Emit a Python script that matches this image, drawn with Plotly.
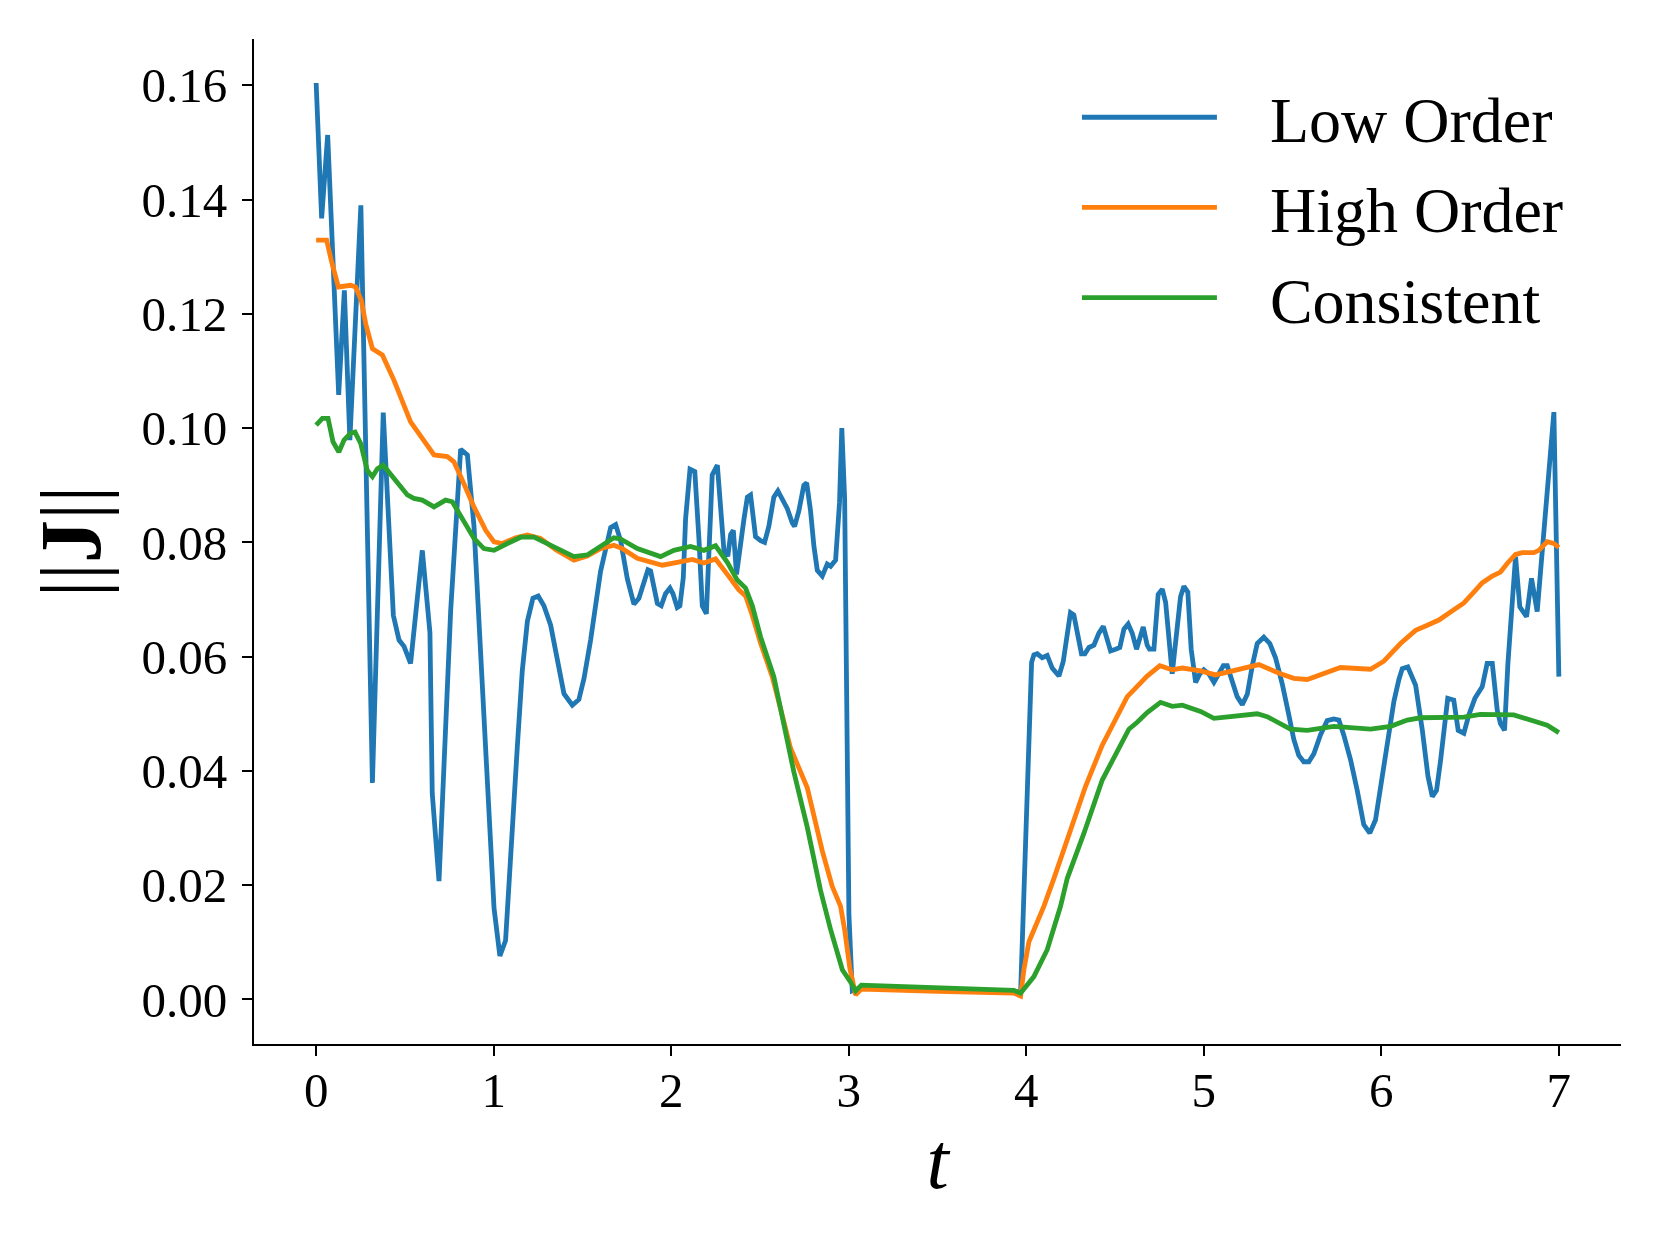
import plotly.graph_objects as go

# ---------------- data ----------------
t_low = [0.000, 0.031, 0.065, 0.127, 0.159, 0.190, 0.252, 0.317, 0.378, 0.435,
         0.467, 0.495, 0.532, 0.598, 0.641, 0.654, 0.692, 0.711, 0.758, 0.814,
         0.852, 0.889, 0.955, 1.002, 1.035, 1.067, 1.133, 1.161, 1.190, 1.221,
         1.251, 1.283, 1.321, 1.396, 1.443, 1.480, 1.509, 1.546, 1.602, 1.659,
         1.687, 1.715, 1.753, 1.790, 1.818, 1.869, 1.884, 1.922, 1.944, 1.968,
         1.993, 2.010, 2.034, 2.049, 2.068, 2.081, 2.106, 2.133, 2.156, 2.175,
         2.198, 2.212, 2.231, 2.260, 2.278, 2.297, 2.319, 2.335, 2.350, 2.368,
         2.410, 2.429, 2.447, 2.475, 2.504, 2.526, 2.550, 2.578, 2.601, 2.626,
         2.654, 2.682, 2.695, 2.719, 2.747, 2.763, 2.785, 2.804, 2.823, 2.851,
         2.879, 2.898, 2.926, 2.948, 2.961, 2.977, 2.988, 3.001, 3.020, 3.067,
         3.500, 3.930, 3.968, 4.030, 4.043, 4.062, 4.090, 4.118, 4.146, 4.184,
         4.208, 4.231, 4.249, 4.268, 4.291, 4.311, 4.330, 4.353, 4.381, 4.409,
         4.434, 4.456, 4.475, 4.503, 4.527, 4.550, 4.574, 4.597, 4.621, 4.659,
         4.681, 4.694, 4.719, 4.743, 4.766, 4.785, 4.822, 4.869, 4.888, 4.910,
         4.929, 4.954, 4.978, 5.000, 5.028, 5.057, 5.085, 5.110, 5.132, 5.160,
         5.188, 5.217, 5.245, 5.273, 5.301, 5.338, 5.372, 5.404, 5.442, 5.479,
         5.507, 5.535, 5.563, 5.592, 5.620, 5.657, 5.695, 5.732, 5.761, 5.789,
         5.827, 5.864, 5.901, 5.935, 5.967, 6.005, 6.043, 6.071, 6.099, 6.118,
         6.149, 6.193, 6.231, 6.263, 6.287, 6.311, 6.334, 6.362, 6.374, 6.408,
         6.433, 6.465, 6.493, 6.527, 6.568, 6.596, 6.625, 6.653, 6.671, 6.694,
         6.713, 6.756, 6.780, 6.818, 6.846, 6.878, 6.934, 6.972, 7.000]
low_order = [0.1604, 0.1367, 0.1513, 0.1058, 0.1241, 0.0979, 0.1390, 0.0379, 0.1027, 0.0672,
             0.0629, 0.0618, 0.0588, 0.0786, 0.0642, 0.0361, 0.0207, 0.0347, 0.0682, 0.0963,
             0.0953, 0.0829, 0.0414, 0.0160, 0.0076, 0.0103, 0.0441, 0.0575, 0.0662, 0.0702,
             0.0706, 0.0689, 0.0655, 0.0535, 0.0515, 0.0525, 0.0562, 0.0629, 0.0749, 0.0826,
             0.0831, 0.0803, 0.0736, 0.0692, 0.0702, 0.0752, 0.0750, 0.0693, 0.0689, 0.0710,
             0.0720, 0.0710, 0.0686, 0.0689, 0.0738, 0.0841, 0.0928, 0.0924, 0.0807, 0.0689,
             0.0675, 0.0786, 0.0918, 0.0935, 0.0862, 0.0786, 0.0776, 0.0814, 0.0821, 0.0744,
             0.0841, 0.0879, 0.0883, 0.0810, 0.0803, 0.0800, 0.0828, 0.0879, 0.0890, 0.0873,
             0.0859, 0.0834, 0.0828, 0.0855, 0.0900, 0.0904, 0.0855, 0.0793, 0.0751, 0.0741,
             0.0762, 0.0758, 0.0769, 0.0869, 0.1000, 0.0876, 0.0495, 0.0149, 0.0015, 0.0021,
             0.0017, 0.0015, 0.0011, 0.0590, 0.0603, 0.0605, 0.0598, 0.0602, 0.0580, 0.0566,
             0.0591, 0.0645, 0.0677, 0.0673, 0.0641, 0.0605, 0.0605, 0.0616, 0.0620, 0.0641,
             0.0653, 0.0627, 0.0610, 0.0613, 0.0616, 0.0648, 0.0657, 0.0641, 0.0613, 0.0652,
             0.0620, 0.0613, 0.0613, 0.0709, 0.0718, 0.0695, 0.0570, 0.0705, 0.0723, 0.0713,
             0.0613, 0.0555, 0.0570, 0.0577, 0.0570, 0.0555, 0.0570, 0.0584, 0.0584, 0.0555,
             0.0530, 0.0516, 0.0534, 0.0584, 0.0623, 0.0634, 0.0623, 0.0598, 0.0552, 0.0498,
             0.0455, 0.0427, 0.0416, 0.0416, 0.0430, 0.0463, 0.0488, 0.0491, 0.0489, 0.0462,
             0.0419, 0.0366, 0.0306, 0.0291, 0.0314, 0.0390, 0.0470, 0.0522, 0.0560, 0.0579,
             0.0582, 0.0550, 0.0471, 0.0390, 0.0355, 0.0366, 0.0419, 0.0506, 0.0527, 0.0524,
             0.0471, 0.0466, 0.0498, 0.0527, 0.0547, 0.0588, 0.0588, 0.0506, 0.0483, 0.0471,
             0.0588, 0.0775, 0.0687, 0.0670, 0.0737, 0.0679, 0.0886, 0.1028, 0.0565]

t_high = [0.000, 0.059, 0.085, 0.125, 0.194, 0.222, 0.254, 0.279, 0.317, 0.373,
          0.438, 0.532, 0.598, 0.664, 0.739, 0.776, 0.823, 0.889, 0.955, 1.002,
          1.049, 1.124, 1.190, 1.264, 1.350, 1.452, 1.527, 1.602, 1.677, 1.725,
          1.809, 1.950, 2.034, 2.119, 2.184, 2.250, 2.316, 2.381, 2.419, 2.457,
          2.504, 2.569, 2.616, 2.672, 2.766, 2.851, 2.907, 2.954, 2.977, 3.007,
          3.039, 3.071, 3.500, 3.930, 3.968, 3.987, 4.015, 4.052, 4.099, 4.156,
          4.240, 4.334, 4.428, 4.512, 4.569, 4.625, 4.681, 4.752, 4.822, 4.879,
          4.982, 5.066, 5.151, 5.245, 5.310, 5.432, 5.507, 5.583, 5.676, 5.770,
          5.939, 6.014, 6.108, 6.193, 6.259, 6.324, 6.390, 6.465, 6.521, 6.568,
          6.625, 6.671, 6.709, 6.756, 6.794, 6.859, 6.887, 6.934, 6.972, 7.000]
high_order = [0.1329, 0.1329, 0.1294, 0.1247, 0.1250, 0.1247, 0.1224, 0.1183, 0.1139, 0.1128,
              0.1084, 0.1011, 0.0982, 0.0953, 0.0950, 0.0941, 0.0909, 0.0862, 0.0821, 0.0801,
              0.0798, 0.0808, 0.0813, 0.0807, 0.0787, 0.0769, 0.0776, 0.0789, 0.0795, 0.0789,
              0.0772, 0.0760, 0.0765, 0.0770, 0.0764, 0.0771, 0.0744, 0.0717, 0.0706, 0.0672,
              0.0623, 0.0565, 0.0509, 0.0440, 0.0371, 0.0260, 0.0198, 0.0163, 0.0122, 0.0053,
              0.0008, 0.0018, 0.0014, 0.0011, 0.0006, 0.0053, 0.0101, 0.0129, 0.0163, 0.0212,
              0.0291, 0.0373, 0.0445, 0.0495, 0.0530, 0.0548, 0.0566, 0.0584, 0.0577, 0.0580,
              0.0575, 0.0568, 0.0575, 0.0582, 0.0586, 0.0570, 0.0562, 0.0560, 0.0570, 0.0581,
              0.0578, 0.0592, 0.0623, 0.0646, 0.0655, 0.0664, 0.0678, 0.0694, 0.0713, 0.0729,
              0.0741, 0.0748, 0.0763, 0.0779, 0.0782, 0.0782, 0.0786, 0.0801, 0.0798, 0.0791]

t_cons = [0.000, 0.035, 0.067, 0.095, 0.128, 0.157, 0.194, 0.219, 0.251, 0.288,
          0.317, 0.345, 0.378, 0.438, 0.514, 0.551, 0.598, 0.664, 0.729, 0.767,
          0.823, 0.889, 0.945, 1.002, 1.077, 1.152, 1.227, 1.302, 1.396, 1.452,
          1.527, 1.602, 1.677, 1.715, 1.809, 1.940, 2.015, 2.109, 2.184, 2.250,
          2.316, 2.372, 2.419, 2.457, 2.504, 2.578, 2.635, 2.691, 2.766, 2.841,
          2.898, 2.964, 3.007, 3.039, 3.071, 3.500, 3.930, 3.968, 4.043, 4.118,
          4.137, 4.193, 4.231, 4.325, 4.428, 4.503, 4.578, 4.625, 4.681, 4.756,
          4.822, 4.879, 4.982, 5.057, 5.170, 5.301, 5.357, 5.488, 5.583, 5.732,
          5.939, 6.052, 6.146, 6.221, 6.465, 6.558, 6.746, 6.878, 6.934, 7.000]
consistent = [0.1005, 0.1017, 0.1017, 0.0976, 0.0958, 0.0979, 0.0991, 0.0993, 0.0973, 0.0926,
              0.0915, 0.0929, 0.0935, 0.0912, 0.0883, 0.0877, 0.0874, 0.0862, 0.0874, 0.0871,
              0.0842, 0.0807, 0.0789, 0.0786, 0.0798, 0.0809, 0.0809, 0.0798, 0.0782, 0.0775,
              0.0778, 0.0792, 0.0808, 0.0806, 0.0789, 0.0775, 0.0786, 0.0793, 0.0786, 0.0794,
              0.0765, 0.0734, 0.0720, 0.0689, 0.0634, 0.0565, 0.0482, 0.0398, 0.0302, 0.0191,
              0.0122, 0.0052, 0.0032, 0.0015, 0.0025, 0.0020, 0.0016, 0.0011, 0.0040, 0.0087,
              0.0105, 0.0163, 0.0212, 0.0291, 0.0384, 0.0427, 0.0473, 0.0485, 0.0502, 0.0520,
              0.0513, 0.0515, 0.0504, 0.0492, 0.0495, 0.0500, 0.0495, 0.0473, 0.0471, 0.0478,
              0.0473, 0.0478, 0.0489, 0.0493, 0.0494, 0.0499, 0.0498, 0.0484, 0.0480, 0.0467]

series_names = ["Low Order", "High Order", "Consistent"]
series_colors = ["#1f77b4", "#ff7f0e", "#2ca02c"]

x_ticks = [0, 1, 2, 3, 4, 5, 6, 7]
y_ticks = [0.00, 0.02, 0.04, 0.06, 0.08, 0.10, 0.12, 0.14, 0.16]
y_tick_labels = ["0.00", "0.02", "0.04", "0.06", "0.08", "0.10", "0.12", "0.14", "0.16"]

# ---------------- figure ----------------
fig = go.Figure()
GAP = "\u00a0\u00a0\u00a0"  # visual gap between legend line and label
for name, tx, vy, col in zip(series_names, [t_low, t_high, t_cons],
                             [low_order, high_order, consistent], series_colors):
    fig.add_trace(go.Scatter(x=tx, y=vy, mode="lines", name=GAP + name,
                             legendgroup=name,
                             line=dict(color=col, width=4.8)))

FONT = "Liberation Serif, Times New Roman, serif"
axis_common = dict(showline=True, linecolor="black", linewidth=2,
                   ticks="outside", ticklen=10, tickwidth=1.6, tickcolor="black",
                   showgrid=False, zeroline=False, mirror=False)

fig.update_layout(
    width=1652, height=1237,
    margin=dict(l=246, r=39, t=31, b=201),
    paper_bgcolor="white", plot_bgcolor="white",
    font=dict(family=FONT, color="black"),
    xaxis=dict(range=[-0.35, 7.35], tickvals=x_ticks, tickfont=dict(size=49, family=FONT),
               ticklabelstandoff=-8,
               title=dict(text="<i>t</i>", font=dict(size=80, family=FONT), standoff=15),
               **axis_common),
    yaxis=dict(range=[-0.0078, 0.1681], tickvals=y_ticks, ticktext=y_tick_labels,
               tickfont=dict(size=49, family=FONT), ticklabelstandoff=5,
               title=dict(text="||<b>J</b>||", font=dict(size=86, family=FONT), standoff=12),
               **axis_common),
    legend=dict(x=0.602, y=0.97, xanchor="left", yanchor="top",
                font=dict(size=64, family=FONT), bgcolor="rgba(0,0,0,0)",
                itemwidth=135, tracegroupgap=4),
    showlegend=True,
)

fig.write_html("out.html")
